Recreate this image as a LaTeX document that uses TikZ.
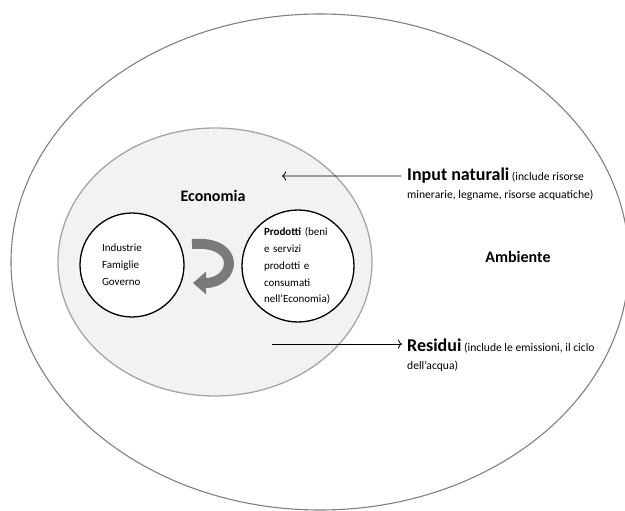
\documentclass[tikz,border=0pt]{standalone}
\usepackage{fontspec}
\setmainfont{Carlito}
\usepackage{xcolor}
\usetikzlibrary{shapes.geometric, arrows.meta, positioning}

\definecolor{ringgray}{HTML}{808080}
\definecolor{ecofill}{HTML}{F2F2F2}
\definecolor{ecoline}{HTML}{A6A6A6}
\definecolor{turngray}{HTML}{7A7A7A}

\begin{document}
\begin{tikzpicture}[x=1pt, y=-1pt,
    ring/.style={ellipse, draw=ringgray, line width=1.1pt, inner sep=0pt},
    eco/.style={ellipse, draw=ecoline, fill=ecofill, line width=1.3pt, inner sep=0pt},
    actor/.style={circle, draw, fill=white, line width=1.3pt, inner sep=0pt, minimum size=#1, align=left, font=\fontsize{11}{16.8}\selectfont},
    title/.style={font=\fontsize{16}{19}\selectfont\bfseries},
    flowlabel/.style={inner sep=0pt, font=\fontsize{11.6}{17}\selectfont},
    arrow/.style={-{To[length=4pt, width=9pt]}, line width=0.8pt},
    turn/.style={-{Triangle[length=13pt, width=22pt]}, line width=10pt, turngray}
]
\useasboundingbox (0,0) rectangle (625,511);
\node[ring, minimum width=618pt, minimum height=496pt] (ambiente) at (320,262) {};
\node[eco, minimum width=314pt, minimum height=268pt] (economia) at (215,262) {};
\node[title] (ecotitle) at (213,196) {Economia};
\node[title] (envtitle) at (518,257) {Ambiente};
\node[actor=104pt, text width=60pt] (soggetti) at (132,265) {Industrie\\Famiglie\\Governo};
\node[actor=112pt, text width=68pt] (prodotti) at (298,266) {\textbf{Prodotti} (beni\\e servizi\\prodotti e\\consumati\\nell’Economia)};
% flussi tra economia e ambiente
\node[flowlabel, anchor=base west] (input) at (407,181) {{\fontsize{18}{20}\selectfont\bfseries Input naturali} (include risorse};
\node[flowlabel, anchor=base west] (inputsub) at (407,199) {minerarie, legname, risorse acquatiche)};
\node[flowlabel, anchor=base west] (residui) at (407,351) {{\fontsize{18}{20}\selectfont\bfseries Residui} (include le emissioni, il ciclo};
\node[flowlabel, anchor=base west] (residuisub) at (407,369) {dell’acqua)};
\coordinate (inTip) at (282,176);
\coordinate (outStart) at (272,344);
\draw[arrow] (input.west) ++(-6,0) -- (inTip);
\draw[arrow] (outStart) -- ([xshift=-5pt]residui.west |- outStart);
\draw[turn] (192,244) .. controls (242,240) and (236,283) .. (193,283);
\end{tikzpicture}
\end{document}
